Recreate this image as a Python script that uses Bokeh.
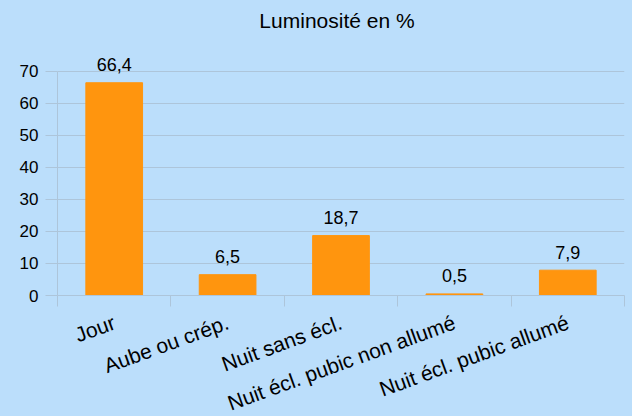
import math
from bokeh.plotting import figure
from bokeh.models import ColumnDataSource, FixedTicker, Range1d
from bokeh.core.properties import value
from bokeh.embed import file_html
from bokeh.resources import INLINE

# ---- data ----
categories = ["Jour", "Aube ou crép.", "Nuit sans écl.", "Nuit écl. pubic non allumé", "Nuit écl. pubic allumé"]
values = [66.4, 6.5, 18.7, 0.5, 7.9]
y_ticks = [0, 10, 20, 30, 40, 50, 60, 70]
title_text = "Luminosité en %"

BG = "#bbdefb"
BAR = "#ff950e"
GRID = "#adc5da"
FONT = "Liberation Sans"

pos = [i + 0.5 for i in range(len(categories))]
labels = [f"{v:.1f}".replace(".", ",") for v in values]
src = ColumnDataSource(dict(x=pos, top=values, lab=labels))

# the frame reaches the top of the canvas: headroom above the top tick holds
# the value labels and the title (text is clipped to the frame)
px_per_unit = 224.3 / y_ticks[-1]
y_top = y_ticks[-1] + 70.7 / px_per_unit

p = figure(width=632, height=416, frame_width=567, frame_height=295,
           output_backend="svg", toolbar_location=None,
           x_range=Range1d(0, len(categories)), y_range=Range1d(0, y_top),
           min_border_left=57, min_border_right=8, min_border_top=0, min_border_bottom=10,
           background_fill_color=BG, border_fill_color=BG, outline_line_color=None)
p.title.visible = False

title_src = ColumnDataSource(dict(x=[len(categories) / 2], y=[y_top], t=[title_text]))
p.text(x="x", y="y", text="t", source=title_src, text_align="center", text_baseline="middle",
       x_offset=-4, y_offset=20, text_font_size="21px", text_color="#000000", text_font=value(FONT))

p.vbar(x="x", top="top", width=0.5, bottom=0, source=src, fill_color=BAR, line_color=BAR)
p.text(x="x", y="top", text="lab", source=src, text_align="center", text_baseline="alphabetic",
       y_offset=-18, text_font_size="18px", text_color="#000000", text_font=value(FONT))

# y axis
p.yaxis.ticker = FixedTicker(ticks=y_ticks)
p.yaxis.bounds = (y_ticks[0], y_ticks[-1])
p.yaxis.axis_line_color = GRID
p.yaxis.major_tick_line_color = GRID
p.yaxis.major_tick_out = 12
p.yaxis.major_tick_in = 0
p.yaxis.minor_tick_line_color = None
p.yaxis.major_label_text_font = FONT
p.yaxis.major_label_text_font_size = "17px"
p.yaxis.major_label_text_color = "#000000"
p.yaxis.major_label_standoff = 7

# x axis: names at category centres, separators as minor ticks
p.xaxis.ticker = FixedTicker(ticks=pos, minor_ticks=list(range(len(categories) + 1)))
p.xaxis.major_label_overrides = {x: c for x, c in zip(pos, categories)}
p.xaxis.axis_line_color = GRID
p.xaxis.major_tick_line_color = None
p.xaxis.major_tick_out = 11
p.xaxis.major_tick_in = 0
p.xaxis.minor_tick_line_color = GRID
p.xaxis.minor_tick_out = 11
p.xaxis.minor_tick_in = 0
p.xaxis.major_label_orientation = math.radians(20)
p.xaxis.major_label_text_font = FONT
p.xaxis.major_label_text_font_size = "21px"
p.xaxis.major_label_text_color = "#000000"
p.xaxis.major_label_standoff = 15

p.xgrid.grid_line_color = None
p.ygrid.grid_line_color = GRID

html = file_html(p, INLINE)
html = html.replace("<head>", "<head><style>html,body{background-color:%s;overflow:hidden;}</style>" % BG, 1)
open("out.html", "w").write(html)
